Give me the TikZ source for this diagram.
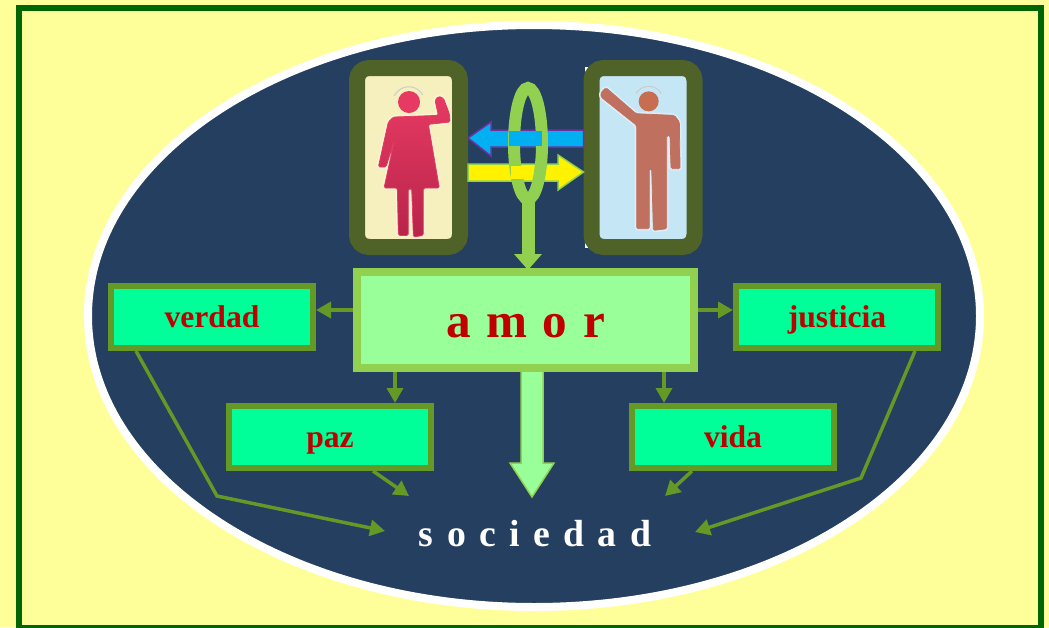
\documentclass[tikz,border=0pt]{standalone}
\usepackage{fontspec}
\setmainfont{Liberation Serif}
\usetikzlibrary{arrows.meta,shapes.geometric}
\definecolor{paleyellow}{HTML}{FFFF99}
\definecolor{darkgreen}{HTML}{006600}
\definecolor{navy}{HTML}{243F60}
\definecolor{olive}{HTML}{4F6228}
\definecolor{limeline}{HTML}{92D050}
\definecolor{palegreen}{HTML}{99FF99}
\definecolor{spring}{HTML}{00FF99}
\definecolor{moss}{HTML}{649926}
\definecolor{wordred}{HTML}{C00000}
\definecolor{skyblue}{HTML}{00B0F0}
\definecolor{purpleline}{HTML}{7030A0}
\definecolor{cream}{HTML}{F5F0BE}
\definecolor{paleblue}{HTML}{C5E6F5}
\definecolor{womantop}{HTML}{E63A62}
\definecolor{womanbottom}{HTML}{B8244A}
\definecolor{womanhalo}{HTML}{FBF3D2}
\definecolor{manbody}{HTML}{C0705F}
\definecolor{manhead}{HTML}{C86E50}
\definecolor{manhalo}{HTML}{DCEFF8}
\tikzset{
  valuebox/.style={draw=moss, fill=spring, line width=1.2mm, inner sep=0pt,
    minimum width=40.4mm, minimum height=12.4mm, text=wordred,
    font=\fontsize{18}{20}\selectfont\bfseries, text height=12pt, text depth=0pt},
  personframe/.style={draw=olive, line width=3.2mm, rounded corners=2.4mm, inner sep=0pt,
    minimum width=20.6mm, minimum height=35.8mm},
  link/.style={draw=moss, line width=0.7mm, -{Triangle[length=3mm,width=3.2mm]}},
  ringline/.style={draw=limeline, line width=2.4mm},
}
\begin{document}
\begin{tikzpicture}[x=0.2mm, y=-0.2mm]
   \useasboundingbox (0,0) rectangle (1049,627);
   \fill[paleyellow] (0,0) rectangle (1049,627);
   \draw[darkgreen, line width=1.2mm] (19,8) rectangle (1041,628);
   \draw[white, fill=navy, line width=1.6mm] (534,316) ellipse [x radius=446, y radius=291];

   \fill[white] (585,67) rectangle (620,248);

   \node[personframe, fill=cream] (womanframe) at (408.5,157.5) {};
   \node[personframe, fill=paleblue] (manframe) at (643,157.5) {};

   %Woman and man
   \begin{scope}[shift={(360,72)}, x=0.0667mm, y=-0.0667mm]
     \path[preaction={draw=womanhalo, line width=0.8mm}, draw=womantop, line width=0.15mm, rounded corners=0.3mm,
       top color=womantop, bottom color=womanbottom]
       (100,135) -- (235,130) -- (225,85) -- (235,73) -- (250,78) -- (268,125) -- (270,150) -- (205,157)
       -- (238,348) -- (190,348) -- (190,490) -- (160,495) -- (155,350) -- (145,350) -- (145,490)
       -- (115,490) -- (112,348) -- (72,348) -- (103,205) -- (78,285) -- (55,285) -- (85,150) -- cycle;
     \fill[womantop] (147,90) circle [radius=33];
     \draw[gray!40, line width=0.2mm] (103,72) arc [start angle=205, end angle=330, radius=48];
   \end{scope}
   \begin{scope}[shift={(596,72)}, x=0.0667mm, y=-0.0667mm]
     \path[preaction={draw=manhalo, line width=0.8mm}, draw=manbody, line width=0.15mm, rounded corners=0.3mm, fill=manbody]
       (15,62) -- (30,47) -- (120,125) -- (235,130) -- (250,150) -- (252,290) -- (225,290) -- (222,190)
       -- (212,190) -- (212,470) -- (172,475) -- (167,290) -- (160,290) -- (160,470) -- (122,470)
       -- (122,160) -- (15,75) -- cycle;
     \fill[manhead] (158,88) circle [radius=30];
     \draw[gray!40, line width=0.2mm] (120,65) arc [start angle=210, end angle=330, radius=44];
   \end{scope}

   %Arrows between the two
   \draw[purpleline, fill=skyblue, line width=0.3mm, line join=miter]
     (womanframe.east |- 0,138) -- (491,122) -- (491,130) -- (manframe.west |- 0,130)
     -- (manframe.west |- 0,147) -- (491,147) -- (491,156) -- cycle;
   \draw[limeline, fill=yellow, line width=0.3mm, line join=miter]
     (womanframe.east |- 0,164) -- (558,164) -- (558,155) -- (manframe.west |- 0,172)
     -- (558,190) -- (558,181) -- (womanframe.east |- 0,181) -- cycle;

   \node[ringline, ellipse, inner sep=0pt, minimum width=5.6mm, minimum height=22.2mm] (ring) at (528,143.5) {};
   \fill[skyblue] (509,131) rectangle (541.5,146);
   \fill[yellow] (510.5,166) rectangle (523,179);

   \node[draw=limeline, fill=palegreen, line width=1.6mm, inner sep=0pt, minimum width=67.4mm, minimum height=19.2mm,
     text=wordred, font=\fontsize{28}{30}\selectfont\bfseries, text height=20.4pt, text depth=0pt]
     (amor) at (525.5,320) {\spaceskip=8.9pt\relax a m o r};
   \node[valuebox] (verdad) at (212,317) {verdad};
   \node[valuebox] (justicia) at (837,317) {justicia};
   \node[valuebox] (paz) at (330,437) {paz};
   \node[valuebox] (vida) at (733,437) {vida};
   \node[text=white, anchor=base, inner sep=0pt, font=\fontsize{21.5}{23}\selectfont\bfseries]
     (sociedad) at (535,546) {\spaceskip=7.6pt\relax s o c i e d a d};

   \draw[limeline, line width=2.6mm, shorten >=-0.4mm, -{Triangle[length=3.2mm,width=5.4mm]}]
     ([yshift=2mm]ring.south) -- (ring.south |- amor.north);

   \draw[limeline, fill=palegreen, line width=0.3mm, line join=miter]
     (521,0 |- amor.south) -- (521,463) -- (510,463) -- (532,497) -- (554,463) -- (543,463) -- (543,0 |- amor.south);

   \coordinate (bendverdad) at (217,496);
   \coordinate (endverdad) at (385,531);
   \coordinate (endpaz) at (409,496);
   \coordinate (endvida) at (665,496);
   \coordinate (bendjusticia) at (861,478);
   \coordinate (endjusticia) at (695,532);

   \draw[link] (amor.west |- 0,310) -- (verdad.east |- 0,310);
   \draw[link] (amor.east |- 0,310) -- (justicia.west |- 0,310);
   \draw[link] (395,0 |- amor.south) -- (395,0 |- paz.north);
   \draw[link] (664,0 |- amor.south) -- (664,0 |- vida.north);

   \draw[link] (136,0 |- verdad.south) -- (bendverdad) -- (endverdad);
   \draw[link] (373,0 |- paz.south) -- (endpaz);
   \draw[link] (692,0 |- vida.south) -- (endvida);
   \draw[link] (915,0 |- justicia.south) -- (bendjusticia) -- (endjusticia);
\end{tikzpicture}
\end{document}
